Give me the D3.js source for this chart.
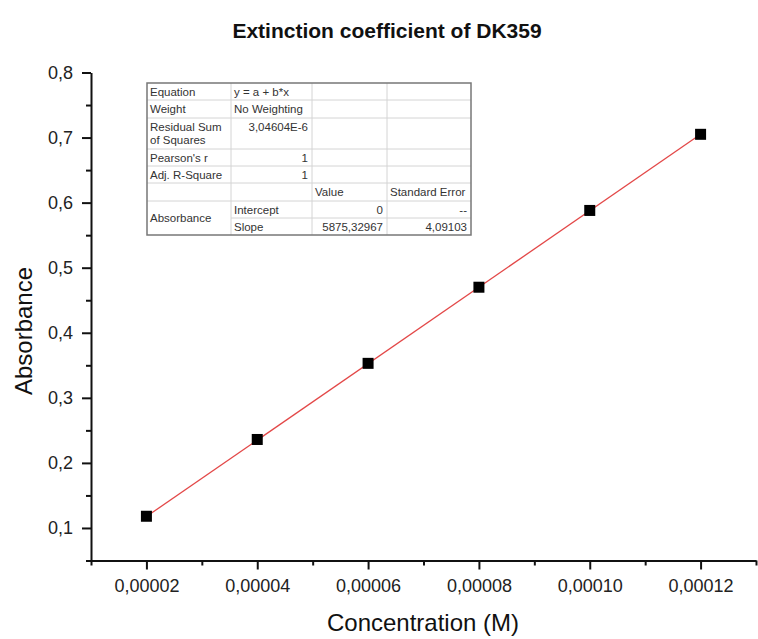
<!DOCTYPE html>
<html>
<head>
<meta charset="utf-8">
<script src="https://cdn.jsdelivr.net/npm/d3@7"></script>
<style>
  body { margin: 0; background: #fff; }
  text { font-family: Arial, "Liberation Sans", sans-serif; }
</style>
</head>
<body>
<script>
// data
var concentration = [0.00002, 0.00004, 0.00006, 0.00008, 0.00010, 0.00012];
var absorbance = [0.118, 0.236, 0.353, 0.470, 0.588, 0.705];
var fitIntercept = 0;
var fitSlope = 5875.32967;

var xMajor = [0.00002, 0.00004, 0.00006, 0.00008, 0.00010, 0.00012];
var xMinor = [0.00001, 0.00003, 0.00005, 0.00007, 0.00009, 0.00011, 0.00013];
var yMajor = [0.1, 0.2, 0.3, 0.4, 0.5, 0.6, 0.7, 0.8];
var yMinor = [0.05, 0.15, 0.25, 0.35, 0.45, 0.55, 0.65, 0.75];

var tableRows = [
  ["Equation", "y = a + b*x", "", ""],
  ["Weight", "No Weighting", "", ""],
  ["Residual Sum\nof Squares", "3,04604E-6", "", ""],
  ["Pearson's r", "1", "", ""],
  ["Adj. R-Square", "1", "", ""],
  ["", "", "Value", "Standard Error"],
  ["Absorbance", "Intercept", "0", "--"],
  ["", "Slope", "5875,32967", "4,09103"]
];
// alignment per cell: l = left, r = right
var tableAlign = [
  ["l", "l", "l", "l"],
  ["l", "l", "l", "l"],
  ["l", "r", "l", "l"],
  ["l", "r", "l", "l"],
  ["l", "r", "l", "l"],
  ["l", "l", "l", "l"],
  ["l", "l", "r", "r"],
  ["l", "l", "r", "r"]
];

var width = 758, height = 639;
var svg = d3.select("body").append("svg")
    .attr("width", width)
    .attr("height", height);

var x = d3.scaleLinear().domain([0.00001, 0.00013]).range([91, 756]);
var y = d3.scaleLinear().domain([0.05, 0.8]).range([560.5, 72.5]);

var loc = d3.formatLocale({decimal: ",", thousands: ".", grouping: [3], currency: ["", ""]});
var fx = loc.format(".5f");
var fy = loc.format(".1f");

// title
svg.append("text")
    .attr("x", 387)
    .attr("y", 38)
    .attr("text-anchor", "middle")
    .attr("font-size", 21)
    .attr("font-weight", "bold")
    .attr("fill", "#111")
    .text("Extinction coefficient of DK359");

// minor ticks first
svg.append("g")
    .attr("transform", "translate(0,560.5)")
    .call(d3.axisBottom(x).tickValues(xMinor).tickSize(5).tickFormat(""))
    .call(function(g) { g.select(".domain").remove(); })
    .selectAll("line").attr("stroke", "#111").attr("stroke-width", 2);

svg.append("g")
    .attr("transform", "translate(91,0)")
    .call(d3.axisLeft(y).tickValues(yMinor).tickSize(5).tickFormat(""))
    .call(function(g) { g.select(".domain").remove(); })
    .selectAll("line").attr("stroke", "#111").attr("stroke-width", 2);

// major axes
var xAxis = svg.append("g")
    .attr("transform", "translate(0,560.5)")
    .call(d3.axisBottom(x).tickValues(xMajor).tickSize(9).tickSizeOuter(0).tickPadding(10).tickFormat(fx));
xAxis.select(".domain").attr("stroke", "#111").attr("stroke-width", 2);
xAxis.selectAll(".tick line").attr("stroke", "#111").attr("stroke-width", 2);
xAxis.selectAll(".tick text").attr("font-size", 18).attr("fill", "#222")
    .attr("font-family", "Arial, 'Liberation Sans', sans-serif");

var yAxis = svg.append("g")
    .attr("transform", "translate(91,0)")
    .call(d3.axisLeft(y).tickValues(yMajor).tickSize(9).tickSizeOuter(0).tickPadding(9).tickFormat(fy));
yAxis.select(".domain").attr("stroke", "#111").attr("stroke-width", 2);
yAxis.selectAll(".tick line").attr("stroke", "#111").attr("stroke-width", 2);
yAxis.selectAll(".tick text").attr("font-size", 18).attr("fill", "#222")
    .attr("font-family", "Arial, 'Liberation Sans', sans-serif");

// axis titles
svg.append("text")
    .attr("x", 423)
    .attr("y", 631)
    .attr("text-anchor", "middle")
    .attr("font-size", 24)
    .attr("fill", "#111")
    .text("Concentration (M)");

svg.append("text")
    .attr("transform", "translate(32,331) rotate(-90)")
    .attr("text-anchor", "middle")
    .attr("font-size", 24)
    .attr("fill", "#111")
    .text("Absorbance");

// fit line
var xFit = d3.extent(concentration);
svg.append("line")
    .attr("x1", x(xFit[0]))
    .attr("y1", y(fitIntercept + fitSlope * xFit[0]))
    .attr("x2", x(xFit[1]))
    .attr("y2", y(fitIntercept + fitSlope * xFit[1]))
    .attr("stroke", "#e34848")
    .attr("stroke-width", 1.3);

// points
svg.append("g").selectAll("rect")
    .data(concentration)
    .join("rect")
    .attr("x", function(d) { return x(d) - 5.5; })
    .attr("y", function(d, i) { return y(absorbance[i]) - 5.5; })
    .attr("width", 11)
    .attr("height", 11)
    .attr("fill", "#000");

// fit table
var colX = [147, 231, 312, 387, 471];
var rowY = [83, 100, 118, 149, 166, 183, 201, 218, 235];
var table = svg.append("g");

table.append("rect")
    .attr("x", colX[0]).attr("y", rowY[0])
    .attr("width", colX[4] - colX[0]).attr("height", rowY[8] - rowY[0])
    .attr("fill", "#fff");

// horizontal lines (skip the one inside the merged Absorbance cell)
rowY.slice(1, 8).forEach(function(yy, i) {
  var start = (i + 1 === 7) ? colX[1] : colX[0];
  table.append("line")
      .attr("x1", start).attr("x2", colX[4])
      .attr("y1", yy).attr("y2", yy)
      .attr("stroke", "#d4d4d4").attr("stroke-width", 1);
});
colX.slice(1, 4).forEach(function(xx) {
  table.append("line")
      .attr("x1", xx).attr("x2", xx)
      .attr("y1", rowY[0]).attr("y2", rowY[8])
      .attr("stroke", "#d4d4d4").attr("stroke-width", 1);
});
table.append("rect")
    .attr("x", colX[0]).attr("y", rowY[0])
    .attr("width", colX[4] - colX[0]).attr("height", rowY[8] - rowY[0])
    .attr("fill", "none").attr("stroke", "#777").attr("stroke-width", 1.5);

tableRows.forEach(function(row, r) {
  row.forEach(function(txt, c) {
    if (!txt) return;
    var lines = txt.split("\n");
    var right = tableAlign[r][c] === "r";
    var top = rowY[r];
    if (r === 6 && c === 0) top = rowY[6] + 8;
    var t = table.append("text")
        .attr("x", right ? colX[c + 1] - 4 : colX[c] + 3)
        .attr("text-anchor", right ? "end" : "start")
        .attr("font-size", 11.5)
        .attr("fill", "#333");
    lines.forEach(function(l, k) {
      t.append("tspan")
          .attr("x", right ? colX[c + 1] - 4 : colX[c] + 3)
          .attr("y", top + 13 + k * 13)
          .text(l);
    });
  });
});
</script>
</body>
</html>
